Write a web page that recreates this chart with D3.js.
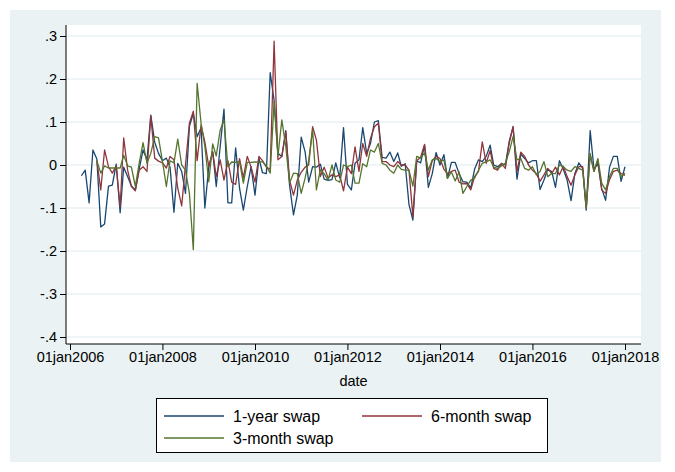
<!DOCTYPE html>
<html><head><meta charset="utf-8">
<script src="https://cdn.jsdelivr.net/npm/d3@7"></script>
<style>body{margin:0;background:#fff}svg{display:block;font-family:"Liberation Sans",Arial,sans-serif}</style>
</head><body><svg id="c" width="675" height="472"></svg>
<script>
// Monthly changes; 1-year swap starts Apr 2006, the others Aug 2006; all end Jan 2018
const seriesNames = ["1-year swap", "6-month swap", "3-month swap"];
const seriesColors = ["#1a476f", "#90353b", "#55752f"];
const startMonth = [3, 7, 7]; // months after Jan 2006
const oneYear = [-0.025,-0.012,-0.088,0.035,0.014,-0.144,-0.137,-0.049,-0.047,0.002,-0.111,-0.005,-0.027,-0.049,-0.058,-0.01,0.035,0.012,0.116,0.053,0.027,0.01,0.016,-0.005,-0.11,0.004,-0.015,-0.066,0.09,0.12,
0.066,0.086,-0.1,-0.004,0.031,-0.05,0.043,0.13,-0.088,-0.088,0.04,-0.054,-0.105,-0.05,-0.004,-0.07,0.016,-0.018,-0.02,0.215,0.15,0.027,0.02,0.08,-0.047,-0.116,-0.07,0.065,0.03,
-0.04,-0.004,-0.005,0.002,-0.033,-0.036,-0.034,0.005,-0.03,0.087,-0.045,-0.058,0.004,0.012,0.087,0.027,0.05,0.1,0.103,0.018,0.016,0.03,0.008,0.028,-0.003,0.003,-0.092,-0.128,0.01,0.005,
0.046,-0.052,-0.02,0.029,0.0,0.024,-0.031,0.006,0.006,-0.02,-0.039,-0.04,-0.054,-0.01,0.012,0.008,0.02,0.046,0.0,-0.004,0.003,0.0,0.054,0.088,-0.033,0.025,0.015,0.005,0.01,
0.01,-0.057,-0.035,-0.01,-0.015,-0.052,0.01,-0.01,-0.035,-0.083,-0.02,0.005,-0.008,-0.105,0.08,-0.01,0.003,-0.055,-0.082,-0.005,0.02,0.02,-0.038,-0.004];
const sixMonth = [0.01,-0.058,0.035,-0.004,-0.019,-0.002,-0.097,0.063,-0.012,-0.05,-0.06,-0.012,-0.004,-0.015,0.114,0.016,0.009,0.005,-0.007,0.02,0.012,-0.054,-0.095,0.0,0.097,0.125,
0.01,0.093,0.054,-0.004,0.03,-0.027,0.012,-0.035,0.01,-0.04,-0.045,0.015,-0.03,0.02,-0.005,-0.04,0.02,0.01,-0.005,-0.01,0.288,0.012,0.02,0.077,-0.035,-0.07,-0.035,-0.017,-0.005,
0.0,0.089,0.058,-0.027,-0.005,-0.03,-0.023,-0.027,-0.023,-0.06,-0.005,-0.02,0.042,-0.015,0.05,0.02,0.062,0.089,0.097,0.008,0.008,0.0,-0.004,0.008,0.0,0.0,-0.012,-0.12,0.01,0.018,
0.048,-0.027,0.01,0.02,0.015,-0.01,-0.02,-0.015,-0.012,-0.04,-0.044,-0.043,-0.058,-0.027,-0.015,0.054,0.004,0.034,-0.008,-0.012,0.004,-0.008,0.05,0.09,-0.015,0.03,0.02,0.0,-0.012,
-0.02,-0.038,-0.023,-0.008,-0.02,-0.005,-0.023,-0.003,-0.027,-0.047,-0.023,-0.004,-0.004,-0.1,0.023,-0.015,0.012,-0.058,-0.066,-0.034,-0.015,-0.012,-0.02,-0.024];
const threeMonth = [0.01,-0.019,-0.002,-0.007,-0.007,-0.007,-0.007,0.023,-0.002,-0.005,-0.05,0.004,0.052,0.004,0.027,0.066,0.063,0.009,-0.05,0.01,0.005,0.06,0.0,-0.012,-0.066,-0.197,
0.19,0.097,0.043,-0.039,0.049,0.021,0.081,0.105,-0.004,0.007,0.006,0.008,-0.042,0.006,0.006,0.007,0.006,0.008,-0.003,-0.019,0.148,0.02,0.105,0.043,-0.042,-0.019,-0.02,-0.066,-0.03,
0.01,0.082,-0.058,-0.011,-0.02,-0.035,0.0,-0.035,-0.04,0.0,-0.004,0.0,-0.042,-0.042,0.003,-0.004,0.035,0.03,0.05,0.004,0.0,-0.012,-0.019,0.0,-0.01,-0.012,-0.012,-0.049,0.02,0.016,
0.028,-0.012,0.012,0.015,0.008,0.012,-0.031,-0.016,-0.037,-0.016,-0.066,-0.05,-0.035,-0.031,-0.012,0.004,0.008,0.012,-0.005,-0.008,-0.002,0.004,0.03,0.066,0.012,0.015,-0.008,-0.012,-0.004,
-0.023,-0.015,0.008,-0.027,-0.02,-0.02,0.0,-0.004,-0.012,-0.015,-0.004,-0.008,-0.012,-0.1,0.027,-0.015,0.015,-0.042,-0.058,-0.027,-0.008,-0.008,-0.027,-0.019];
const yTicks = [-0.4,-0.3,-0.2,-0.1,0,0.1,0.2,0.3];
const yTickLabels = ["-.4","-.3","-.2","-.1","0",".1",".2",".3"];
const xTickYears = [2006,2008,2010,2012,2014,2016,2018];

const FONT = "Liberation Sans, Arial, sans-serif";
const svg = d3.select("#c");
const allSeries = [oneYear, sixMonth, threeMonth];

svg.append("rect").attr("x",10).attr("y",10).attr("width",651).attr("height",452).attr("fill","#eaf2f3");
const plot = {l:66, r:641, t:25, b:344};
svg.append("rect").attr("x",plot.l).attr("y",plot.t).attr("width",plot.r-plot.l).attr("height",plot.b-plot.t).attr("fill","#fff");

const x = d3.scaleTime().domain([new Date(2006,0,1), new Date(2018,0,1)]).range([70, 625]);
const y = d3.scaleLinear().domain([-0.4,0.3]).range([337, 36]);

svg.append("g").selectAll("line").data(yTicks).join("line")
  .attr("x1",plot.l).attr("x2",plot.r).attr("y1",d=>y(d)).attr("y2",d=>y(d))
  .attr("stroke","#eaf2f3").attr("stroke-width",1.5);

const line = d3.line().x(d=>x(d.date)).y(d=>y(d.v));
allSeries.forEach((arr,i)=>{
  const pts = arr.map((v,k)=>({date:new Date(2006, startMonth[i]+k, 1), v}));
  svg.append("path").datum(pts).attr("d",line).attr("fill","none")
    .attr("stroke",seriesColors[i]).attr("stroke-width",1.3).attr("stroke-linejoin","round");
});

const yAxis = svg.append("g").attr("transform",`translate(${plot.l},0)`)
  .call(d3.axisLeft(y).tickValues(yTicks).tickFormat((d,i)=>yTickLabels[i]).tickSize(6).tickSizeOuter(0));
yAxis.select(".domain").attr("d",`M0,${plot.t}V${plot.b}`).attr("stroke","#000");
yAxis.selectAll(".tick line").attr("stroke","#000");
yAxis.selectAll("text").attr("font-size",14.5).attr("fill","#000").attr("font-family",FONT).attr("x",-9);

const fmt = d3.timeFormat("%d%b%Y");
const xAxis = svg.append("g").attr("transform",`translate(0,${plot.b})`)
  .call(d3.axisBottom(x).tickValues(xTickYears.map(yy=>new Date(yy,0,1))).tickFormat(d=>fmt(d).toLowerCase()).tickSize(6).tickSizeOuter(0));
xAxis.select(".domain").attr("d",`M${plot.l},0H${plot.r}`).attr("stroke","#000");
xAxis.selectAll(".tick line").attr("stroke","#000");
xAxis.selectAll("text").attr("font-size",14.5).attr("fill","#000").attr("font-family",FONT).attr("y",8);

svg.append("text").attr("x",(plot.l+plot.r)/2).attr("y",386).attr("text-anchor","middle")
  .attr("font-size",14.5).attr("font-family",FONT).text("date");

const lg = svg.append("g");
lg.append("rect").attr("x",156.5).attr("y",398.5).attr("width",391).attr("height",54).attr("fill","#fff").attr("stroke","#000");
const legPos = [[164,416],[362,416],[164,438]];
seriesNames.forEach((n,i)=>{
  const [lx,ly] = legPos[i];
  lg.append("line").attr("x1",lx).attr("x2",lx+60).attr("y1",ly).attr("y2",ly).attr("stroke",seriesColors[i]).attr("stroke-width",1.5);
  lg.append("text").attr("x",lx+69).attr("y",ly+5.5).attr("font-size",16).attr("font-family",FONT).text(n);
});
</script></body></html>
